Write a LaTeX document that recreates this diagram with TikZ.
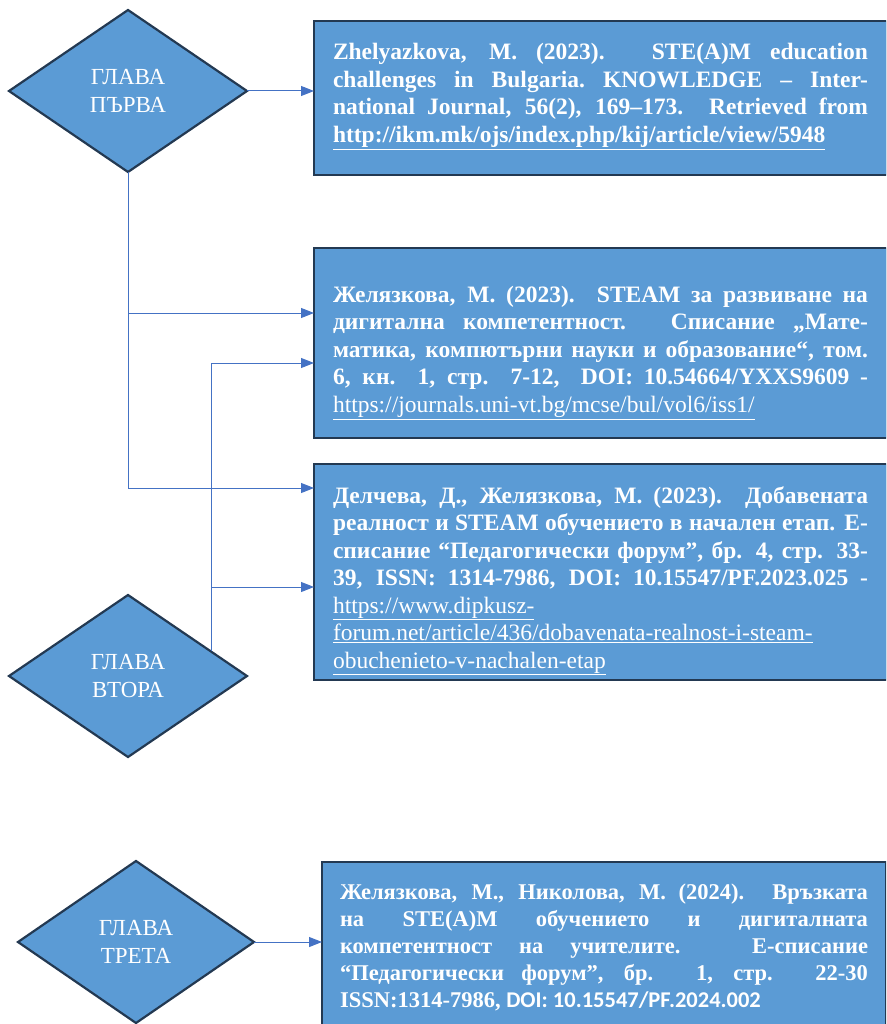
\documentclass[tikz,border=0pt]{standalone}
\usetikzlibrary{arrows.meta,calc,shapes.geometric}
\usepackage{tkz-euclide}
\usepackage{fontspec}
\setmainfont{LiberationSerif}[Extension=.ttf,UprightFont=*-Regular,BoldFont=*-Bold,
  ItalicFont=*-Italic,BoldItalicFont=*-BoldItalic]
\newfontfamily\doifont{Carlito}
\definecolor{ShapeClr}{RGB}{91,155,213}
\definecolor{EdgeClr}{RGB}{35,57,82}
\definecolor{LineClr}{RGB}{68,114,196}

\begin{document}
\begin{tikzpicture}[x=1pt,y=-1pt,
  glava/.style={diamond,draw=EdgeClr,line width=2.2pt,fill=ShapeClr,text=white,
    minimum width=238pt,minimum height=162pt,inner sep=0pt,outer sep=0pt,
    align=center,font=\rmfamily\fontsize{23}{28}\selectfont},
  refbox/.style={rectangle,draw=EdgeClr,line width=2.2pt,fill=ShapeClr,text=white,
    anchor=north west,align=justify,inner xsep=19pt,outer sep=0pt,text width=535pt,
    font=\rmfamily\bfseries\fontsize{23.5}{27.5}\selectfont},
  link/.style={draw=LineClr,line width=1pt,-{Triangle[length=13pt,width=10pt]}},
  stem/.style={draw=LineClr,line width=1pt}]

\tkzDefPoints{0/0/A,886/1024/F,128/91/G1,128/676/G2,136/942/G3,
  314/21/R1,314/248/R2,314/464/R3,322/862/R4}
\tkzDefPoints{128/313/T1,128/488/T2,211/651/S0,211/363/S1,211/587/S2}

\useasboundingbox (A) rectangle (F);
\clip (A) rectangle (F);

% chapters
\node[glava] (g1) at (G1) {ГЛАВА\\ПЪРВА};
\node[glava] (g2) at (G2) {ГЛАВА\\ВТОРА};
\node[glava,minimum width=236pt] (g3) at (G3) {ГЛАВА\\ТРЕТА};

% publications
\node[refbox,minimum height=154pt] (r1) at (R1) {Zhelyazkova, M. (2023). STE(A)M education\linebreak
  challenges in Bulgaria.~KNOWLEDGE – Inter-\linebreak
  national Journal, 56(2), 169–173. Retrieved from\linebreak
  \underline{http://ikm.mk/ojs/index.php/kij/article/view/5948}\rule[-10pt]{0pt}{10pt}};
\node[refbox,minimum height=190pt] (r2) at (R2) {\rule{0pt}{36pt}Желязкова, М. (2023). STEAM за развиване на\linebreak
  дигитална компетентност. Списание „Мате-\linebreak
  матика, компютърни науки и образование“, том.\linebreak
  6, кн. 1, стр. 7-12,\ \ DOI: 10.54664/YXXS9609 -\linebreak
  {\mdseries\underline{https://journals.uni-vt.bg/mcse/bul/vol6/iss1/}}};
\node[refbox,minimum height=216pt] (r3) at (R3) {\rule{0pt}{34pt}Делчева, Д., Желязкова, М. (2023). Добавената\linebreak
  реалност и STEAM обучението в начален етап. Е-\linebreak
  списание “Педагогически форум”, бр. 4, стр. 33-\linebreak
  39, ISSN: 1314-7986, DOI: 10.15547/PF.2023.025 -\linebreak
  {\mdseries\underline{https://www.dipkusz-}}\\
  {\mdseries\underline{forum.net/article/436/dobavenata-realnost-i-steam-}}\\
  {\mdseries\underline{obuchenieto-v-nachalen-etap}}};
\node[refbox,text width=528pt,inner xsep=18pt,minimum height=170pt,
  font=\rmfamily\bfseries\fontsize{22.5}{27}\selectfont] (r4) at (R4) {Желязкова, М., Николова, М. (2024). Връзката\linebreak
  на STE(A)M обучението и дигиталната\linebreak
  компетентност на учителите. Е-списание\linebreak
  “Педагогически форум”, бр. 1, стр. 22-30\linebreak
  ISSN:1314-7986,\ {\doifont DOI: 10.15547/PF.2024.002}};

% connectors
\draw[link] (g1.east) -- (r1.west |- g1.east);
\draw[stem] (g1.south) -- (T2);
\draw[link] (T1) -- (r2.west |- T1);
\draw[link] (T2) -- (r3.west |- T2);
\draw[stem] (S0) -- (S1);
\draw[link] (S1) -- (r2.west |- S1);
\draw[link] (S2) -- (r3.west |- S2);
\draw[link] (g3.east) -- (r4.west |- g3.east);

\end{tikzpicture}
\end{document}
